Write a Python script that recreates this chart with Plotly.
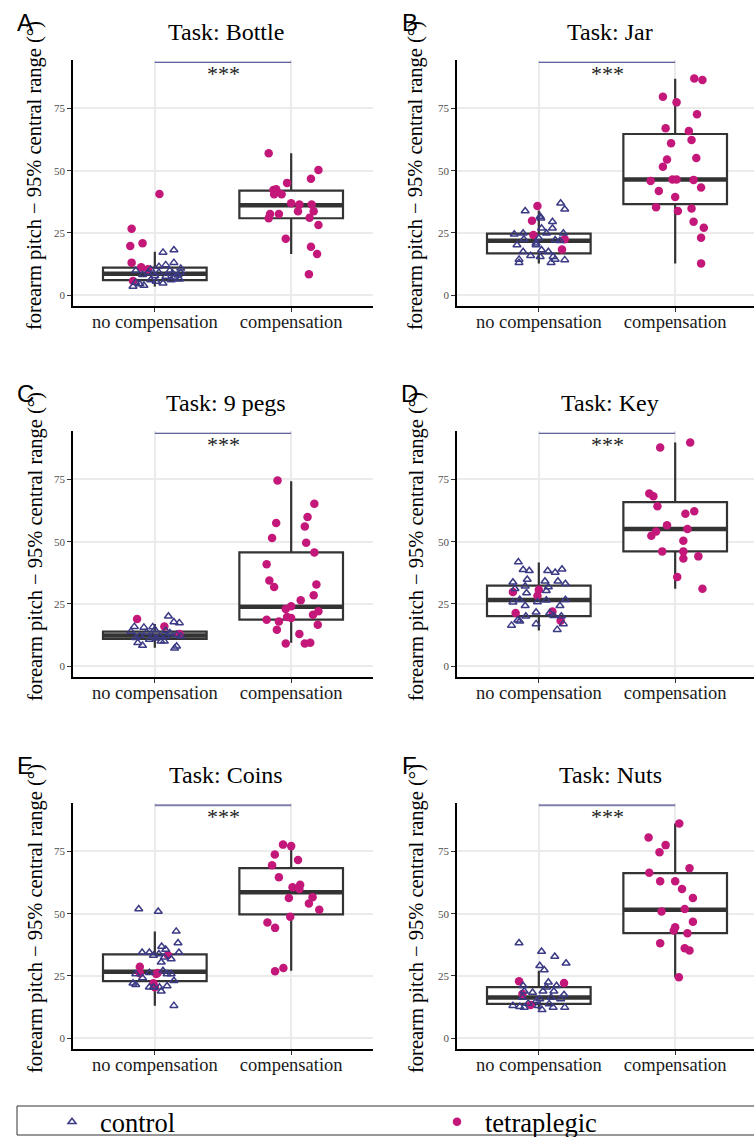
import plotly.graph_objects as go

W, H = 754, 1137

TASKS = ["Bottle", "Jar", "9 pegs", "Key", "Coins", "Nuts"]
PANEL_TAGS = ["A", "B", "C", "D", "E", "F"]
CATEGORIES = ["no compensation", "compensation"]
GROUPS = ["control", "tetraplegic"]
Y_TICKS = [0, 25, 50, 75]
SIG_LABEL = "***"
SIG_LEVEL = 93.5

# ---- Bottle ----
BOTTLE_CTRL = [17.2, 18.2, 13.1, 12.2, 11.5, 10.8, 10.4, 9.9, 9.1, 8.8, 9.1, 8.2, 7.8, 7.5,
               6.4, 6.1, 5.1, 4.5, 3.9, 3.5, 4.8, 6.1, 7.2, 9.1, 5.5, 9.9, 8.0]
BOTTLE_CTRL_JIT = [.06, .14, .14, .08, .03, .19, -.03, -.14, .03, .13, .19, -.09, 0, .08,
                   .18, .12, -.14, -.11, -.08, -.16, .06, -.03, .145, -.05, .01, .11, .17]
BOTTLE_TETRA_NC = [40.6, 26.7, 20.9, 19.8, 13.1, 11.2, 10.4, 5.7]
BOTTLE_TETRA_NC_JIT = [.034, -.17, -.09, -.18, -.17, -.10, -.05, -.16]
BOTTLE_TETRA_C = [57.0, 50.3, 46.8, 45.1, 42.2, 42.5, 40.5, 40.5, 36.9, 36.4, 36.4, 33.7, 33.7,
                  32.6, 32.6, 30.9, 31.1, 28.2, 22.7, 19.5, 16.6, 8.4]
BOTTLE_TETRA_C_JIT = [-.165, .20, .145, -.03, -.13, -.11, -.125, -.07, 0, .06, .15, .05, .165,
                      -.09, -.155, -.165, .135, .20, -.04, .145, .19, .13]
# box summaries: lower whisker, q1, median, q3, upper whisker
BOTTLE_BOX_NC = [3.5, 6.1, 8.6, 11.1, 17.5]
BOTTLE_BOX_C = [16.6, 30.9, 36.1, 42.0, 57.0]

# ---- Jar ----
JAR_CTRL = [36.9, 34.5, 33.8, 31.6, 30.9, 29.5, 26.9, 26.9, 24.5, 24.9, 24.9, 24.9, 22.5, 22.9,
            22.2, 21.9, 20.2, 20.2, 17.5, 18.2, 17.5, 15.9, 15.5, 15.5, 14.2, 14.4, 13.1, 13.1,
            14.4, 20.9]
JAR_CTRL_JIT = [.16, .19, -.10, .01, .015, .10, .02, .10, -.18, -.115, .056, .18, -.11, 0,
                .12, .155, -.16, -.02, -.115, .02, .07, -.06, .01, .105, .19, -.145, -.145, .09,
                .12, -.02]
JAR_TETRA_NC = [35.8, 29.9, 24.2, 22.5, 18.4]
JAR_TETRA_NC_JIT = [-.01, -.05, -.04, .19, .17]
JAR_TETRA_C = [87.0, 86.4, 79.7, 77.4, 72.6, 67.0, 65.9, 62.3, 61.0, 55.1, 54.5, 51.6, 45.9,
               46.5, 46.5, 46.3, 43.2, 41.8, 39.4, 35.3, 33.8, 34.8, 29.5, 27.1, 23.1, 12.8]
JAR_TETRA_C_JIT = [.14, .20, -.09, .01, .16, -.07, .10, .12, -.03, .155, -.06, -.09, -.18,
                   -.02, .01, .135, .19, -.12, 0, -.14, .02, .12, .135, .21, .19, .19]
JAR_BOX_NC = [12.8, 16.8, 21.9, 24.7, 34.0]
JAR_BOX_C = [12.8, 36.6, 46.5, 64.7, 86.9]

# ---- 9 pegs ----
PEGS_CTRL = [20.1, 17.8, 17.4, 15.9, 15.6, 15.8, 14.7, 14.0, 13.6, 14.3, 13.4, 12.7, 12.3,
             12.0, 12.0, 12.0, 12.0, 11.4, 10.7, 10.0, 10.0, 9.4, 8.3, 8.0, 7.2, 11.2]
PEGS_CTRL_JIT = [.10, .14, .18, -.15, -.08, -.015, 0, -.175, -.06, .08, .11, .16, -.11,
                 -.015, .035, .085, .19, -.14, -.04, .045, .07, -.125, -.09, .16, .145, .01]
PEGS_TETRA_NC = [19.0, 16.0, 13.0]
PEGS_TETRA_NC_JIT = [-.13, .07, .18]
PEGS_TETRA_C = [74.5, 65.2, 59.9, 57.5, 56.1, 51.5, 49.6, 45.7, 40.9, 34.4, 32.8, 31.8, 28.5,
                26.5, 24.1, 23.0, 22.1, 20.7, 19.8, 19.4, 18.7, 18.0, 16.7, 14.7, 13.0, 9.1,
                9.1, 9.4]
PEGS_TETRA_C_JIT = [-.10, .17, .12, -.11, .10, -.14, .11, .17, -.18, -.16, .185, -.125, .165,
                    .07, 0, -.04, .20, .16, -.03, 0, -.18, -.09, .195, -.105, .06, -.04, .10,
                    .14]
PEGS_BOX_NC = [7.4, 11.0, 12.4, 13.9, 17.0]
PEGS_BOX_C = [9.4, 18.7, 23.9, 45.7, 74.2]

# ---- Key ----
KEY_CTRL = [41.8, 38.7, 38.3, 38.3, 37.6, 38.9, 34.8, 33.7, 34.1, 34.1, 33.1, 31.1, 32.1,
            31.8, 30.3, 29.4, 25.7, 26.7, 25.8, 26.5, 26.7, 24.3, 24.3, 21.7, 21.4, 20.1,
            20.3, 20.1, 18.5, 18.1, 17.0, 17.0, 16.4, 14.7]
KEY_CTRL_JIT = [-.15, -.115, -.07, .065, .12, .17, -.085, -.19, .045, .14, .195, -.175, -.10,
                .07, .055, -.09, -.19, -.14, -.01, .055, .195, -.10, .155, -.02, .08, -.095,
                .11, .165, -.155, -.14, -.02, .18, -.20, .135]
KEY_TETRA_NC = [29.8, 30.7, 28.3, 21.4, 22.0, 18.3]
KEY_TETRA_NC_JIT = [-.19, 0, -.01, -.17, .10, .16]
KEY_TETRA_C = [89.8, 87.8, 69.3, 68.2, 64.2, 62.2, 61.2, 56.6, 55.1, 54.1, 52.4, 50.4, 46.1,
               46.1, 44.1, 43.2, 35.8, 31.1]
KEY_TETRA_C_JIT = [.11, -.11, -.19, -.16, -.13, .14, .075, -.06, .09, -.14, -.175, .06, -.095,
                   .06, .17, .06, .015, .20]
KEY_BOX_NC = [14.4, 20.1, 26.6, 32.4, 41.6]
KEY_BOX_C = [31.1, 46.1, 55.1, 65.9, 89.8]

# ---- Coins ----
COINS_CTRL = [51.9, 50.9, 42.9, 38.2, 36.8, 35.6, 34.4, 34.4, 34.4, 33.2, 33.8, 32.5, 31.8,
              30.5, 27.1, 26.3, 25.8, 25.8, 25.8, 24.2, 23.1, 22.1, 21.5, 20.5, 20.5, 21.0,
              18.9, 13.1, 20.5]
COINS_CTRL_JIT = [-.118, .025, .157, .17, .05, .08, -.093, -.04, .177, -.01, .03, .07, .12,
                  .047, .06, -.04, -.14, .09, .12, -.09, .14, -.16, -.14, -.01, .034, .09,
                  .047, .14, -.04]
COINS_TETRA_NC = [28.7, 26.1, 33.4, 26.2, 25.8, 22.1, 20.5]
COINS_TETRA_NC_JIT = [-.11, -.11, .096, .02, .01, -.01, 0]
COINS_TETRA_C = [77.7, 77.1, 73.7, 71.5, 69.4, 64.6, 61.6, 60.6, 59.9, 56.6, 56.3, 54.1, 51.6,
                 48.8, 46.5, 44.3, 28.2, 26.9]
COINS_TETRA_C_JIT = [-.06, 0, -.12, .05, -.14, -.09, .066, .01, .06, .157, -.017, .13, .206,
                     -.007, -.174, -.118, -.057, -.118]
COINS_BOX_NC = [13.1, 22.9, 26.7, 33.7, 42.8]
COINS_BOX_C = [27.1, 49.7, 58.6, 68.3, 76.2]

# ---- Nuts ----
NUTS_CTRL = [38.2, 34.8, 32.8, 30.1, 29.1, 27.4, 22.5, 21.1, 21.1, 20.5, 18.4, 18.9, 18.9,
             18.9, 17.5, 16.4, 15.8, 16.4, 15.1, 15.8, 13.1, 12.7, 12.4, 13.1, 11.4, 12.4,
             12.4, 13.8, 14.0]
NUTS_CTRL_JIT = [-.145, .02, .117, .20, .007, .04, .07, -.115, .13, .056, -.046, -.107, .03,
                 .11, .185, -.12, .007, .09, -.017, .16, -.19, -.14, -.107, -.005, .024, .105,
                 .19, .076, -.078]
NUTS_TETRA_NC = [22.9, 22.2, 17.8, 13.4]
NUTS_TETRA_NC_JIT = [-.145, .185, -.12, -.06]
NUTS_TETRA_C = [86.2, 80.6, 77.5, 74.6, 68.2, 66.4, 63.0, 63.0, 59.9, 56.3, 51.9, 50.9, 46.8,
                44.5, 43.2, 42.1, 38.1, 36.1, 35.2, 24.5]
NUTS_TETRA_C_JIT = [.03, -.195, -.07, -.115, .105, -.19, -.11, 0, .05, .13, .07, -.10, .13, 0,
                    -.01, .09, -.11, .07, .105, .027]
NUTS_BOX_NC = [11.5, 13.8, 16.4, 20.5, 27.1]
NUTS_BOX_C = [24.5, 42.2, 51.6, 66.3, 86.2]

PANELS = [
    (BOTTLE_CTRL, BOTTLE_CTRL_JIT, BOTTLE_TETRA_NC, BOTTLE_TETRA_NC_JIT,
     BOTTLE_TETRA_C, BOTTLE_TETRA_C_JIT, BOTTLE_BOX_NC, BOTTLE_BOX_C),
    (JAR_CTRL, JAR_CTRL_JIT, JAR_TETRA_NC, JAR_TETRA_NC_JIT,
     JAR_TETRA_C, JAR_TETRA_C_JIT, JAR_BOX_NC, JAR_BOX_C),
    (PEGS_CTRL, PEGS_CTRL_JIT, PEGS_TETRA_NC, PEGS_TETRA_NC_JIT,
     PEGS_TETRA_C, PEGS_TETRA_C_JIT, PEGS_BOX_NC, PEGS_BOX_C),
    (KEY_CTRL, KEY_CTRL_JIT, KEY_TETRA_NC, KEY_TETRA_NC_JIT,
     KEY_TETRA_C, KEY_TETRA_C_JIT, KEY_BOX_NC, KEY_BOX_C),
    (COINS_CTRL, COINS_CTRL_JIT, COINS_TETRA_NC, COINS_TETRA_NC_JIT,
     COINS_TETRA_C, COINS_TETRA_C_JIT, COINS_BOX_NC, COINS_BOX_C),
    (NUTS_CTRL, NUTS_CTRL_JIT, NUTS_TETRA_NC, NUTS_TETRA_NC_JIT,
     NUTS_TETRA_C, NUTS_TETRA_C_JIT, NUTS_BOX_NC, NUTS_BOX_C),
]

# ---- styling ----
SERIF = "Liberation Serif, Times New Roman, DejaVu Serif, serif"
SANS = "Liberation Sans, Arial, sans-serif"
CTRL_COLOR = "#3b3a84"
TETRA_COLOR = "#c4177a"
BOX_LINE = "#333333"
GRID = "#ebebeb"
SIG_COLORS = ["#2f2f80", "#2f2f80", "#34347f", "#34347f", "#7f7fae", "#7f7fae"]
SIG_WIDTHS = [1.2, 1.2, 1.2, 1.2, 1.8, 1.8]
BOX_HALF = 0.38

# panel geometry in pixels: (left, right, top, bottom) of the plotting area
COL_X = [(73, 373), (457, 754)]
ROW_Y = [(60, 306), (431, 677), (803, 1049)]
X_RANGES = [[-0.6, 1.6], [-0.6, 1.578]]
Y_RANGE = [-4.3, 94.4]

fig = go.Figure()
layout = {}
annotations = []

for k, (task, tag, data) in enumerate(zip(TASKS, PANEL_TAGS, PANELS)):
    ctrl, ctrl_j, t_nc, t_nc_j, t_c, t_c_j, box_nc, box_c = data
    row, col = divmod(k, 2)
    xl, xr = COL_X[col]
    yt, yb = ROW_Y[row]
    n = k + 1
    xa = "x" if n == 1 else f"x{n}"
    ya = "y" if n == 1 else f"y{n}"
    xkey = "xaxis" if n == 1 else f"xaxis{n}"
    ykey = "yaxis" if n == 1 else f"yaxis{n}"

    layout[xkey] = dict(
        domain=[xl / W, xr / W], range=X_RANGES[col], anchor=ya,
        tickvals=[0, 1], ticktext=CATEGORIES, showgrid=True, gridcolor=GRID,
        gridwidth=1.5, zeroline=False, showline=True, linecolor="black", linewidth=1.5,
        ticks="outside", ticklen=4, tickwidth=1.2, tickcolor=BOX_LINE,
        ticklabelstandoff=-6,
        tickfont=dict(family=SERIF, size=18.5, color="#1a1a1a"), fixedrange=True,
    )
    layout[ykey] = dict(
        domain=[1 - yb / H, 1 - yt / H], range=Y_RANGE, anchor=xa,
        tickvals=Y_TICKS, showgrid=True, gridcolor=GRID, gridwidth=1.5,
        zeroline=False, showline=True, linecolor="black", linewidth=1.5,
        ticks="outside", ticklen=4, tickwidth=1.2, tickcolor=BOX_LINE,
        tickfont=dict(family=SERIF, size=11, color="#4d4d4d"), fixedrange=True,
    )

    # boxes from summary statistics
    stats = list(zip(box_nc, box_c))
    fig.add_trace(go.Box(
        x=[0, 1], lowerfence=list(stats[0]), q1=list(stats[1]), median=list(stats[2]),
        q3=list(stats[3]), upperfence=list(stats[4]), width=2 * BOX_HALF,
        whiskerwidth=0, fillcolor="white", line=dict(color=BOX_LINE, width=2.2),
        boxpoints=False, showlegend=False, hoverinfo="skip", xaxis=xa, yaxis=ya,
    ))
    # heavier median bars
    for i, med in enumerate(stats[2]):
        fig.add_trace(go.Scatter(
            x=[i - BOX_HALF, i + BOX_HALF], y=[med, med], mode="lines",
            line=dict(color=BOX_LINE, width=4.5), showlegend=False, hoverinfo="skip",
            xaxis=xa, yaxis=ya,
        ))

    # tetraplegic participants
    fig.add_trace(go.Scatter(
        x=[0 + j for j in t_nc_j] + [1 + j for j in t_c_j], y=t_nc + t_c,
        mode="markers", name=GROUPS[1], legendgroup=GROUPS[1], showlegend=(k == 0),
        legend="legend2",
        marker=dict(symbol="circle", size=8.5, color=TETRA_COLOR), xaxis=xa, yaxis=ya,
    ))
    # control participants
    fig.add_trace(go.Scatter(
        x=[0 + j for j in ctrl_j], y=ctrl, mode="markers", name=GROUPS[0],
        legendgroup=GROUPS[0], showlegend=(k == 0), legend="legend",
        marker=dict(symbol="triangle-up-open", size=7, color=CTRL_COLOR,
                    line=dict(width=1.5, color=CTRL_COLOR)),
        xaxis=xa, yaxis=ya,
    ))

    # significance bracket
    fig.add_trace(go.Scatter(
        x=[0, 1], y=[SIG_LEVEL, SIG_LEVEL], mode="lines",
        line=dict(color=SIG_COLORS[k], width=SIG_WIDTHS[k]), showlegend=False,
        hoverinfo="skip", xaxis=xa, yaxis=ya,
    ))
    annotations.append(dict(
        x=0.5, y=SIG_LEVEL - 4.5, xref=xa, yref=ya, text=SIG_LABEL, showarrow=False,
        font=dict(family=SERIF, size=22, color="#1a1a1a"), yanchor="middle",
    ))

    # panel title
    annotations.append(dict(
        x=((xl + (xl + 300)) / 2 + 3) / W, y=1 - (yt - 28) / H, xref="paper", yref="paper",
        text=f"Task: {task}", showarrow=False, xanchor="center", yanchor="middle",
        font=dict(family=SERIF, size=24, color="black"),
    ))
    # panel tag
    annotations.append(dict(
        x=(25 + col * 385) / W, y=1 - (yt - 38) / H, xref="paper", yref="paper",
        text=tag, showarrow=False, xanchor="center", yanchor="middle",
        font=dict(family=SANS, size=24, color="black"),
    ))
    # y-axis title
    annotations.append(dict(
        x=(35 + col * 381) / W, y=1 - ((yt + yb) / 2 - 7) / H, xref="paper", yref="paper",
        text="forearm pitch \u2212 95% central range (\u00b0)", showarrow=False,
        textangle=-90, xanchor="center", yanchor="middle",
        font=dict(family=SERIF, size=20.5, color="black"),
    ))

legend_common = dict(
    orientation="h", xanchor="left", yanchor="middle", y=1 - 1122 / H,
    font=dict(family=SERIF, size=26.5, color="black"), bgcolor="rgba(0,0,0,0)",
    borderwidth=0, itemwidth=46,
)

fig.update_layout(
    width=W, height=H, margin=dict(l=0, r=0, t=0, b=0, autoexpand=False),
    paper_bgcolor="white", plot_bgcolor="white",
    annotations=annotations,
    legend=dict(x=44 / W, **legend_common),
    legend2=dict(x=429 / W, **legend_common),
    shapes=[dict(
        type="rect", xref="paper", yref="paper", x0=17 / W, x1=1.01,
        y0=1 - 1135 / H, y1=1 - 1106 / H, line=dict(color="#333333", width=1),
    )],
    **layout,
)

fig.write_html("out.html")
